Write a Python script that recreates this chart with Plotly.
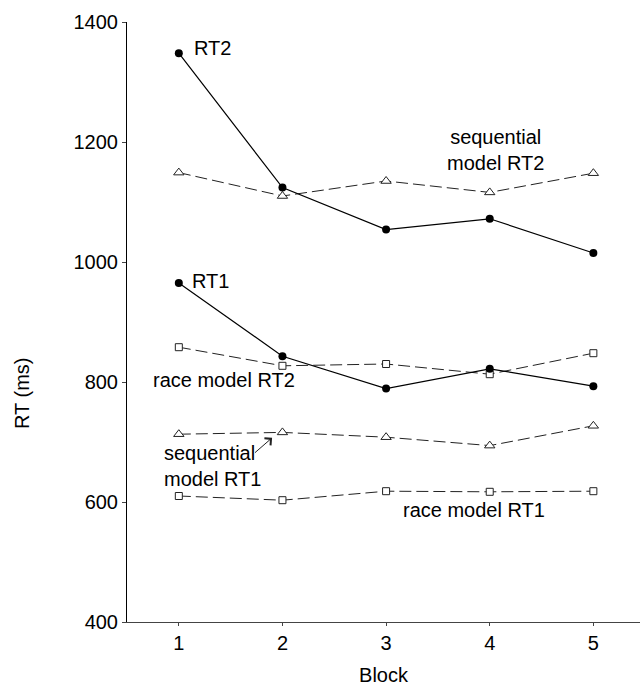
import plotly.graph_objects as go

blocks = [1, 2, 3, 4, 5]
rt2 = [1348, 1124, 1054, 1072, 1015]
rt1 = [965, 843, 789, 822, 793]
seq_rt2 = [1149, 1110, 1135, 1116, 1148]
seq_rt1 = [713, 716, 708, 694, 727]
race_rt2 = [858, 827, 830, 813, 848]
race_rt1 = [610, 603, 618, 617, 618]

FONT = "Liberation Sans, Arial, sans-serif"
fig = go.Figure()

def add_model(y, symbol, size):
    fig.add_trace(go.Scatter(
        x=blocks, y=y, mode="lines+markers",
        line=dict(color="#222", width=1, dash="12px,5px"),
        marker=dict(symbol=symbol, size=size, color="white",
                    line=dict(color="#222", width=1)),
        showlegend=False, hoverinfo="skip"))

def add_rt(y):
    fig.add_trace(go.Scatter(
        x=blocks, y=y, mode="lines+markers",
        line=dict(color="black", width=1.2),
        marker=dict(symbol="circle", size=8, color="black"),
        showlegend=False, hoverinfo="skip"))

add_model(seq_rt2, "triangle-up", 9)
add_model(seq_rt1, "triangle-up", 9)
add_model(race_rt2, "square", 7)
add_model(race_rt1, "square", 7)
add_rt(rt2)
add_rt(rt1)

tf = dict(family=FONT, size=20, color="black")
ann = [
    dict(x=1.13, y=1357, text="RT2", xanchor="left"),
    dict(x=1.11, y=968, text="RT1", xanchor="left"),
    dict(x=4.06, y=1186, text="sequential<br>model RT2", xanchor="center"),
    dict(x=0.73, y=804, text="race model RT2", xanchor="left"),
    dict(x=0.835, y=660, text="sequential<br>model RT1", xanchor="left", align="left"),
    dict(x=3.85, y=587, text="race model RT1", xanchor="center"),
]
for a in ann:
    fig.add_annotation(xref="x", yref="y", showarrow=False, font=tf,
                       yanchor="middle", **a)

fig.add_annotation(x=1.9, y=707, ax=1.72, ay=680, xref="x", yref="y",
                   axref="x", ayref="y", showarrow=True, arrowhead=4,
                   arrowsize=1.8, arrowwidth=1, arrowcolor="#222", text="")

fig.add_annotation(xref="paper", yref="paper", x=0, y=0.38, xshift=-105,
                   text="RT (ms)", textangle=-90, showarrow=False, font=tf,
                   xanchor="center", yanchor="middle")

fig.update_layout(
    width=643, height=687,
    margin=dict(l=127, r=3, t=22, b=65),
    plot_bgcolor="white", paper_bgcolor="white",
    font=tf,
    xaxis=dict(range=[0.5, 5.45], tickvals=blocks, ticktext=[str(b) for b in blocks],
               showline=True, linecolor="#444", linewidth=1, ticks="outside",
               ticklen=3, tickcolor="#444", showgrid=False, zeroline=False,
               title=dict(text="Block", font=tf, standoff=14)),
    yaxis=dict(range=[400, 1400], tickvals=[400, 600, 800, 1000, 1200, 1400],
               showline=True, linecolor="black", linewidth=1, ticks="outside",
               ticklen=4, tickcolor="#444", showgrid=False, zeroline=False),
)

fig.write_html("out.html")
